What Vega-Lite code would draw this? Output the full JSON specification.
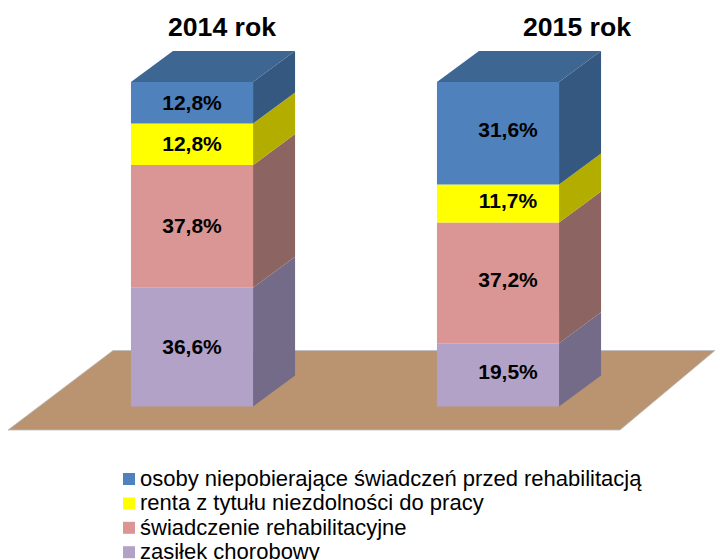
{
"$schema":"https://vega.github.io/schema/vega-lite/v6.json",
"width":715,"height":560,"autosize":{"type":"none"},"padding":0,"background":"white",
"config":{"view":{"stroke":null},"text":{"font":"Liberation Sans"},"legend":{"labelFont":"Liberation Sans"}},
"data":{"values":[
{"year":2014,"series":"zasiłek chorobowy","rank":1,"value":36.6,"label":"36,6%"},
{"year":2014,"series":"świadczenie rehabilitacyjne","rank":2,"value":37.8,"label":"37,8%"},
{"year":2014,"series":"renta z tytułu niezdolności do pracy","rank":3,"value":12.8,"label":"12,8%"},
{"year":2014,"series":"osoby niepobierające świadczeń przed  rehabilitacją","rank":4,"value":12.8,"label":"12,8%"},
{"year":2015,"series":"zasiłek chorobowy","rank":1,"value":19.5,"label":"19,5%"},
{"year":2015,"series":"świadczenie rehabilitacyjne","rank":2,"value":37.2,"label":"37,2%"},
{"year":2015,"series":"renta z tytułu niezdolności do pracy","rank":3,"value":11.7,"label":"11,7%"},
{"year":2015,"series":"osoby niepobierające świadczeń przed  rehabilitacją","rank":4,"value":31.6,"label":"31,6%"}
]},
"transform":[
{"stack":"value","groupby":["year"],"sort":[{"field":"rank","order":"ascending"}],"as":["y0","y1"]},
{"calculate":"datum.year-0.1995","as":"left"},
{"calculate":"datum.year+0.1995","as":"right"}
],
"layer":[
{"data":{"values":[{"level":-7.24,"from":2013.3986,"to":2015.3987},{"level":17.26,"from":2013.7418,"to":2015.7092}]},
 "transform":[],
 "mark":{"type":"area","orient":"horizontal","color":"#BA9470","stroke":"#BDBDBD","strokeWidth":0.8},
 "encoding":{
  "y":{"field":"level","type":"quantitative","scale":{"domain":[-47.3,125.27],"nice":false,"zero":false},"axis":null},
  "x":{"field":"from","type":"quantitative","scale":{"domain":[2013.3725,2015.7092],"nice":false,"zero":false},"axis":null},
  "x2":{"field":"to"}}},
{"transform":[{"calculate":"[0,1]","as":"t"},{"flatten":["t"]},
  {"calculate":"datum.right+0.1373*datum.t","as":"sx"},
  {"calculate":"datum.y1+9.55*datum.t","as":"sy"},
  {"calculate":"datum.y0+9.55*datum.t","as":"sy2"}],
 "mark":{"type":"area","interpolate":"linear"},
 "encoding":{
  "x":{"field":"sx","type":"quantitative","scale":{"domain":[2013.3725,2015.7092],"nice":false,"zero":false},"axis":null},
  "y":{"field":"sy","type":"quantitative","scale":{"domain":[-47.3,125.27],"nice":false,"zero":false},"axis":null},
  "y2":{"field":"sy2"},
  "detail":{"field":"year"},
  "color":{"field":"series","type":"nominal","legend":null,"scale":{
    "domain":["osoby niepobierające świadczeń przed  rehabilitacją","renta z tytułu niezdolności do pracy","świadczenie rehabilitacyjne","zasiłek chorobowy"],
    "range":["#355880","#B3AD00","#8C6462","#736B88"]}}}},
{"transform":[{"filter":"datum.rank==4"},{"calculate":"[0,1]","as":"t"},{"flatten":["t"]},
  {"calculate":"datum.left+0.1373*datum.t","as":"a"},
  {"calculate":"datum.right+0.1373*datum.t","as":"b"},
  {"calculate":"100+9.55*datum.t","as":"c"}],
 "mark":{"type":"area","orient":"horizontal","color":"#3E6693"},
 "encoding":{
  "y":{"field":"c","type":"quantitative","scale":{"domain":[-47.3,125.27],"nice":false,"zero":false},"axis":null},
  "x":{"field":"a","type":"quantitative","scale":{"domain":[2013.3725,2015.7092],"nice":false,"zero":false},"axis":null},
  "x2":{"field":"b"},
  "detail":{"field":"year"}}},
{"mark":{"type":"rect"},
 "encoding":{
  "x":{"field":"left","type":"quantitative","scale":{"domain":[2013.3725,2015.7092],"nice":false,"zero":false},"axis":null},
  "x2":{"field":"right"},
  "y":{"field":"y0","type":"quantitative","scale":{"domain":[-47.3,125.27],"nice":false,"zero":false},"axis":null},
  "y2":{"field":"y1"},
  "color":{"field":"series","type":"nominal","scale":{
    "domain":["osoby niepobierające świadczeń przed  rehabilitacją","renta z tytułu niezdolności do pracy","świadczenie rehabilitacyjne","zasiłek chorobowy"],
    "range":["#4F81BD","#FFFF00","#D99694","#B3A2C7"]},
   "legend":{"title":null,"orient":"none","legendX":118,"legendY":468,"padding":0,"symbolType":"square","symbolSize":144,"symbolStrokeWidth":0,"symbolOpacity":1,"labelFontSize":22,"labelColor":"#000","labelOffset":0,"labelLimit":700,"rowPadding":2.4,"columns":1}}}},
{"transform":[{"filter":"datum.year==2014"},{"calculate":"(datum.y0+datum.y1)/2","as":"mid"}],
 "mark":{"type":"text","fontSize":21,"fontWeight":"bold","color":"#000","baseline":"middle","dy":1},
 "encoding":{
  "x":{"field":"year","type":"quantitative","scale":{"domain":[2013.3725,2015.7092],"nice":false,"zero":false},"axis":null},
  "y":{"field":"mid","type":"quantitative","scale":{"domain":[-47.3,125.27],"nice":false,"zero":false},"axis":null},
  "text":{"field":"label"}}},
{"transform":[{"filter":"datum.year==2015"},{"calculate":"(datum.y0+datum.y1)/2","as":"mid"}],
 "mark":{"type":"text","fontSize":21,"fontWeight":"bold","color":"#000","baseline":"middle","dx":10,"dy":-2},
 "encoding":{
  "x":{"field":"year","type":"quantitative","scale":{"domain":[2013.3725,2015.7092],"nice":false,"zero":false},"axis":null},
  "y":{"field":"mid","type":"quantitative","scale":{"domain":[-47.3,125.27],"nice":false,"zero":false},"axis":null},
  "text":{"field":"label"}}},
{"data":{"values":[{"year":2014,"title":"2014 rok"}]},"transform":[],
 "mark":{"type":"text","fontSize":26.6,"fontWeight":"bold","color":"#000","baseline":"middle","dx":30},
 "encoding":{
  "x":{"field":"year","type":"quantitative","scale":{"domain":[2013.3725,2015.7092],"nice":false,"zero":false},"axis":null},
  "y":{"datum":116.7,"type":"quantitative","scale":{"domain":[-47.3,125.27],"nice":false,"zero":false},"axis":null},
  "text":{"field":"title"}}},
{"data":{"values":[{"year":2015,"title":"2015 rok"}]},"transform":[],
 "mark":{"type":"text","fontSize":26.6,"fontWeight":"bold","color":"#000","baseline":"middle","dx":79},
 "encoding":{
  "x":{"field":"year","type":"quantitative","scale":{"domain":[2013.3725,2015.7092],"nice":false,"zero":false},"axis":null},
  "y":{"datum":116.7,"type":"quantitative","scale":{"domain":[-47.3,125.27],"nice":false,"zero":false},"axis":null},
  "text":{"field":"title"}}}
],
"resolve":{"scale":{"color":"independent"}}
}
